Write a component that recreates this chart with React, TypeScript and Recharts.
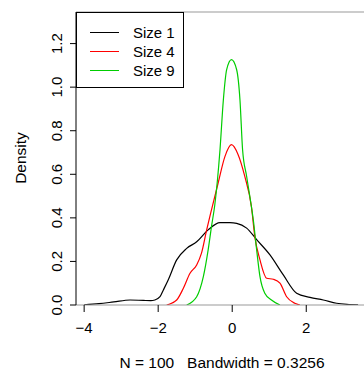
import { LineChart, Line, XAxis, YAxis, Legend, ReferenceLine } from 'recharts';

// density estimates
const size1X = [-4.0, -3.6, -3.2, -2.76, -2.4, -2.2, -2.09, -1.95, -1.86, -1.73, -1.5, -1.23, -0.96, -0.65, -0.33, -0.06, 0.12, 0.39, 0.66, 1.02, 1.38, 1.74, 2.1, 2.46, 2.82, 3.1, 3.4];
const size1Y = [0.001, 0.006, 0.014, 0.023, 0.021, 0.02, 0.023, 0.038, 0.069, 0.115, 0.207, 0.26, 0.29, 0.345, 0.378, 0.378, 0.375, 0.353, 0.3, 0.23, 0.138, 0.054, 0.035, 0.023, 0.008, 0.003, 0.001];

const size4X = [-1.77, -1.5, -1.32, -1.14, -0.96, -0.83, -0.69, -0.56, -0.38, -0.2, -0.02, 0.16, 0.34, 0.52, 0.61, 0.75, 0.93, 1.11, 1.29, 1.47, 1.69, 1.83];
const size4Y = [0, 0.023, 0.077, 0.146, 0.184, 0.238, 0.345, 0.437, 0.56, 0.68, 0.736, 0.69, 0.59, 0.45, 0.314, 0.207, 0.123, 0.118, 0.1, 0.038, 0.008, 0];

const size9X = [-1.23, -0.96, -0.78, -0.65, -0.56, -0.47, -0.33, -0.24, -0.15, -0.02, 0.12, 0.21, 0.28, 0.39, 0.52, 0.57, 0.66, 0.75, 0.88, 1.06, 1.29];
const size9Y = [0, 0.038, 0.13, 0.253, 0.36, 0.46, 0.713, 0.94, 1.08, 1.126, 1.08, 0.94, 0.713, 0.59, 0.45, 0.39, 0.253, 0.13, 0.054, 0.023, 0];

const xTicks = [-4, -2, 0, 2];
const yTicks = [0, 0.2, 0.4, 0.6, 0.8, 1.0, 1.2];
const xDomain = [-4.22, 3.56];
const yDomain = [0, 1.345];

const seriesNames = ['Size 1', 'Size 4', 'Size 9'];
const seriesColors = ['#000000', '#ff0000', '#00cd00'];

const toPoints = (xs: number[], ys: number[]) => xs.map((x, i) => ({ x, y: ys[i] }));
const series = [toPoints(size1X, size1Y), toPoints(size4X, size4Y), toPoints(size9X, size9Y)];

const FONT = '"Liberation Sans", Arial, sans-serif';

const XTick = ({ x, y, payload }: any) => (
  <text x={x} y={y + 19} textAnchor="middle" fontSize={15} fontFamily={FONT} fill="#000">
    {payload.value < 0 ? `\u2212${Math.abs(payload.value)}` : payload.value}
  </text>
);

const YTick = ({ y, payload }: any) => (
  <text
    x={62}
    y={y}
    transform={`rotate(-90, 62, ${y})`}
    textAnchor="middle"
    fontSize={15}
    fontFamily={FONT}
    fill="#000"
  >
    {payload.value.toFixed(1)}
  </text>
);

const LegendBox = () => (
  <div
    style={{
      width: 108,
      height: 76,
      boxSizing: 'border-box',
      border: '1px solid #000',
      background: '#fff',
      paddingTop: 10,
      fontFamily: FONT,
      fontSize: 15,
    }}
  >
    {seriesNames.map((name, i) => (
      <div key={name} style={{ display: 'flex', alignItems: 'center', height: 19 }}>
        <div style={{ width: 29, height: 1, background: seriesColors[i], marginLeft: 13, marginRight: 14 }} />
        <span>{name}</span>
      </div>
    ))}
  </div>
);

export default function App() {
  return (
    <div style={{ position: 'absolute', left: 0, top: 0, background: '#fff' }}>
      <LineChart width={364} height={371} margin={{ top: 12, right: 0, bottom: 0, left: 0 }}>
        <XAxis
          dataKey="x"
          type="number"
          domain={xDomain}
          ticks={xTicks}
          allowDataOverflow
          height={66}
          axisLine={{ stroke: '#999' }}
          tickLine={{ stroke: '#000' }}
          tickSize={7}
          tick={<XTick />}
          label={() => (
            <text
              x={222}
              y={368}
              textAnchor="middle"
              fontSize={15.5}
              fontFamily={FONT}
              fill="#000"
              style={{ whiteSpace: 'pre' }}
            >
              {'N = 100   Bandwidth = 0.3256'}
            </text>
          )}
        />
        <YAxis
          dataKey="y"
          type="number"
          domain={yDomain}
          ticks={yTicks}
          allowDataOverflow
          width={76}
          axisLine={{ stroke: '#000' }}
          tickLine={{ stroke: '#000' }}
          tickSize={6}
          tick={<YTick />}
          label={() => (
            <text
              x={26}
              y={158}
              transform="rotate(-90, 26, 158)"
              textAnchor="middle"
              fontSize={15.5}
              fontFamily={FONT}
              fill="#000"
            >
              Density
            </text>
          )}
        />
        <ReferenceLine y={yDomain[1]} stroke="#999" />
        {series.map((pts, i) => (
          <Line
            key={seriesNames[i]}
            data={pts}
            dataKey="y"
            name={seriesNames[i]}
            type="monotone"
            stroke={seriesColors[i]}
            strokeWidth={1.2}
            dot={false}
            isAnimationActive={false}
          />
        ))}
        <Legend
          layout="vertical"
          align="center"
          verticalAlign="middle"
          wrapperStyle={{ left: 76, top: 12, width: 108 }}
          content={<LegendBox />}
        />
      </LineChart>
    </div>
  );
}
